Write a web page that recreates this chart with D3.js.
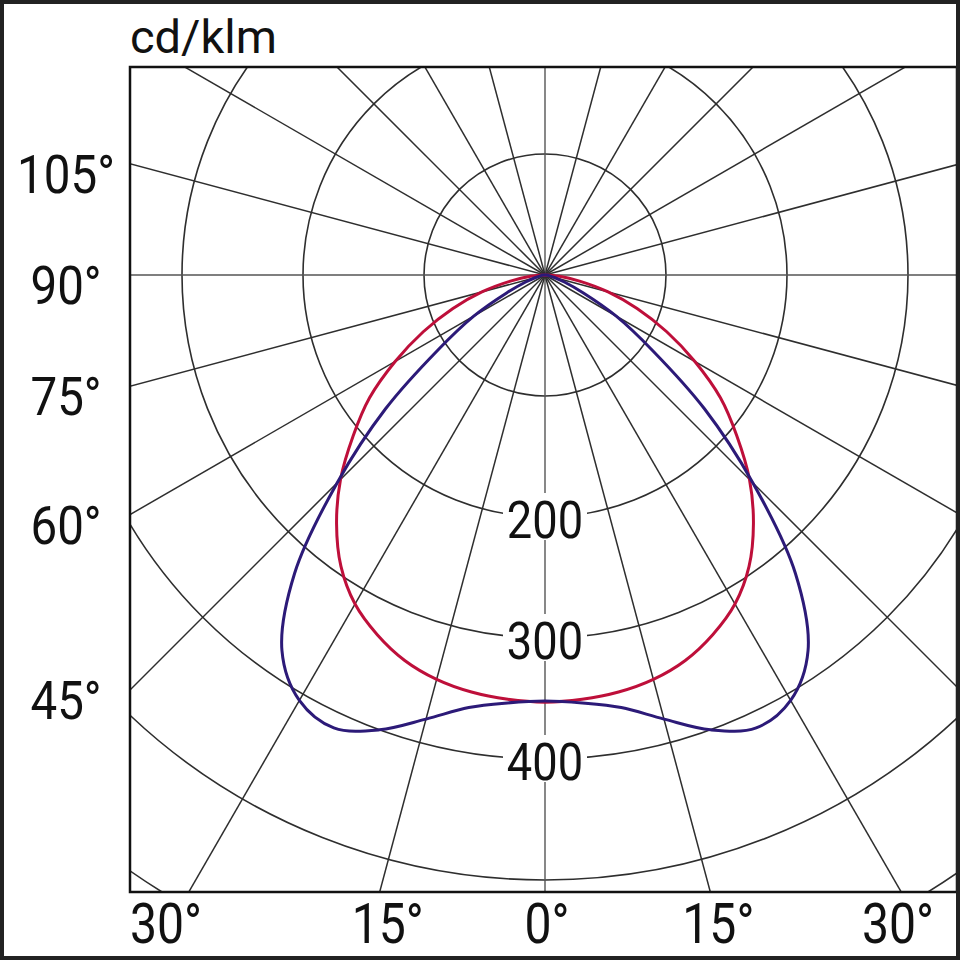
<!DOCTYPE html>
<html>
<head>
<meta charset="utf-8">
<script src="https://cdn.jsdelivr.net/npm/d3@7"></script>
<style>
  body { margin: 0; background: #fff; }
  svg { display: block; }
</style>
</head>
<body>
<div id="chart"></div>
<script>
// half-plane readings (angle from nadir, degrees) - curves are symmetric
const angles = [0, 5, 10, 15, 20, 25, 30, 35, 40, 45, 50, 55, 60, 65, 70, 75, 80, 85, 90];
const redValues = [353, 352, 350, 346, 339, 328, 314, 294, 268, 239, 207, 177, 143, 111, 81, 54, 29, 12, 0];
const blueValues = [352, 355, 363, 380, 400, 413, 406, 379, 322, 243, 172, 108, 68, 35, 17, 8, 4, 1, 0];

const ringValues = [100, 200, 300, 400, 500, 600];
const ringLabelValues = [200, 300, 400];
const sideAngles = [105, 90, 75, 60, 45];
const bottomAngles = [-30, -15, 0, 15, 30];
const unitLabel = "cd/klm";

window.onload = () => {

    var w = 960;
    var h = 960;
    var cx = 545;
    var cy = 275;
    var plot = { x0: 130, y0: 67, x1: 957, y1: 892 };
    var font = "Roboto, 'Noto Sans', sans-serif";

    var rScale = d3.scaleLinear()
        .domain([0, 100])
        .range([0, 121]);

    var toRad = (d) => d * Math.PI / 180;

    var svg = d3.select("#chart")
        .append("svg")
        .attr("width", w)
        .attr("height", h);

    svg.append("rect")
        .attr("width", w)
        .attr("height", h)
        .attr("fill", "#fff");

    svg.append("clipPath")
        .attr("id", "plotclip")
        .append("rect")
        .attr("x", plot.x0)
        .attr("y", plot.y0)
        .attr("width", plot.x1 - plot.x0)
        .attr("height", plot.y1 - plot.y0);

    var inner = svg.append("g").attr("clip-path", "url(#plotclip)");

    // rings
    inner.selectAll("circle.ring")
        .data(ringValues)
        .enter()
        .append("circle")
        .attr("class", "ring")
        .attr("cx", cx)
        .attr("cy", cy)
        .attr("r", (d) => rScale(d))
        .attr("fill", "none")
        .attr("stroke", "#2e2e2e")
        .attr("stroke-width", 1.6);

    // spokes every 15 degrees
    inner.selectAll("line.spoke")
        .data(d3.range(0, 360, 15))
        .enter()
        .append("line")
        .attr("class", "spoke")
        .attr("x1", cx)
        .attr("y1", cy)
        .attr("x2", (d) => cx + 1400 * Math.sin(toRad(d)))
        .attr("y2", (d) => cy + 1400 * Math.cos(toRad(d)))
        .attr("stroke", (d) => (d % 90 === 0) ? "#555" : "#2e2e2e")
        .attr("stroke-width", (d) => (d % 90 === 0) ? 1.4 : 1.5);

    // ring value labels on the nadir axis
    var ringLab = inner.selectAll("g.ringlab")
        .data(ringLabelValues)
        .enter()
        .append("g")
        .attr("class", "ringlab")
        .attr("transform", (d) => `translate(${cx}, ${cy + rScale(d)})`);

    ringLab.append("rect")
        .attr("x", -42)
        .attr("y", -24)
        .attr("width", 84)
        .attr("height", 47)
        .attr("fill", "#fff");

    ringLab.append("text")
        .attr("transform", "translate(0, 21) scale(0.87, 1)")
        .attr("text-anchor", "middle")
        .attr("font-family", font)
        .attr("font-size", 52)
        .attr("fill", "#111")
        .text((d) => d);

    // curves
    var buildSeries = (vals) => {
        var left = angles.map((a, i) => ({ g: -a, v: vals[i] })).reverse();
        var right = angles.map((a, i) => ({ g: a, v: vals[i] })).slice(1);
        return left.concat(right);
    };

    var radial = d3.lineRadial()
        .angle((d) => Math.PI - toRad(d.g))
        .radius((d) => rScale(d.v))
        .curve(d3.curveCatmullRom.alpha(0.5));

    inner.append("path")
        .datum(buildSeries(redValues))
        .attr("transform", `translate(${cx}, ${cy})`)
        .attr("fill", "none")
        .attr("stroke", "#be0f3a")
        .attr("stroke-width", 3)
        .attr("d", radial);

    inner.append("path")
        .datum(buildSeries(blueValues))
        .attr("transform", `translate(${cx}, ${cy})`)
        .attr("fill", "none")
        .attr("stroke", "#2c1a78")
        .attr("stroke-width", 3)
        .attr("d", radial);

    // plot frame
    svg.append("rect")
        .attr("x", plot.x0)
        .attr("y", plot.y0)
        .attr("width", plot.x1 - plot.x0)
        .attr("height", plot.y1 - plot.y0)
        .attr("fill", "none")
        .attr("stroke", "#111")
        .attr("stroke-width", 2.5);

    // outer border
    svg.append("rect")
        .attr("x", 2)
        .attr("y", 2)
        .attr("width", w - 4)
        .attr("height", h - 4)
        .attr("fill", "none")
        .attr("stroke", "#222")
        .attr("stroke-width", 4);

    // unit
    svg.append("text")
        .attr("x", plot.x0)
        .attr("y", 53)
        .attr("font-family", font)
        .attr("font-size", 47)
        .attr("fill", "#111")
        .text(unitLabel);

    // side angle labels (where spokes meet left edge)
    svg.selectAll("text.side")
        .data(sideAngles)
        .enter()
        .append("text")
        .attr("class", "side")
        .attr("transform", (d) => {
            var y = cy + (cx - plot.x0) * Math.cos(toRad(d)) / Math.sin(toRad(d));
            return `translate(66, ${y + 29}) scale(0.88, 1)`;
        })
        .attr("text-anchor", "middle")
        .attr("font-family", font)
        .attr("font-size", 54)
        .attr("fill", "#111")
        .text((d) => d + "°");

    // bottom angle labels (where spokes meet bottom edge, outer ones pinned to edges)
    var bottomPos = (d) => {
        if (d <= -30) return { x: plot.x0, anchor: "start" };
        if (d >= 30) return { x: plot.x1 - 23, anchor: "end" };
        return { x: cx + (plot.y1 - cy) * Math.tan(toRad(d)) + (d === 0 ? 2 : 8), anchor: "middle" };
    };

    svg.selectAll("text.bottom")
        .data(bottomAngles)
        .enter()
        .append("text")
        .attr("class", "bottom")
        .attr("transform", (d) => `translate(${bottomPos(d).x}, 943) scale(0.86, 1)`)
        .attr("text-anchor", (d) => bottomPos(d).anchor)
        .attr("font-family", font)
        .attr("font-size", 56)
        .attr("fill", "#111")
        .text((d) => Math.abs(d) + "°");
}
</script>
</body>
</html>
